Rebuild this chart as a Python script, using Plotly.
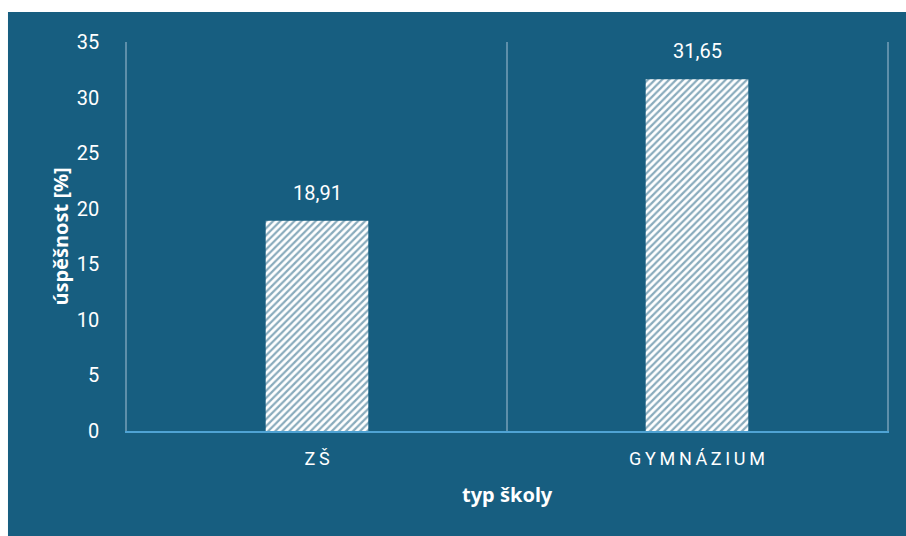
import plotly.graph_objects as go

categories = ["ZŠ", "GYMNÁZIUM"]
values = [18.91, 31.65]
value_labels = ["18,91", "31,65"]
y_ticks = [0, 5, 10, 15, 20, 25, 30, 35]

BG = "#175E80"
TXT = "#FFFFFF"
GRID = "#5E8FAA"

def spaced(s):
    return "\u2009".join(list(s))

fig = go.Figure()
fig.add_trace(go.Bar(
    x=categories, y=values, width=0.27,
    marker=dict(color="white", line=dict(width=0),
                pattern=dict(shape="/", fgcolor="#14587A", bgcolor="white", size=5, solidity=0.45)),
    hoverinfo="skip",
))

for c, v, t in zip(categories, values, value_labels):
    fig.add_annotation(x=c, y=v, text=t, showarrow=False, yanchor="bottom", yshift=14,
                       font=dict(family="Roboto", size=20, color=TXT))

fig.add_shape(type="rect", xref="paper", yref="paper", x0=-0.1566, x1=1.03, y0=-0.28, y1=1.0771,
              fillcolor=BG, line=dict(width=0), layer="below")

fig.add_annotation(xref="paper", yref="paper", x=-0.088, y=0.5, xanchor="center", yanchor="middle",
                   text="<b>úspěšnost [%]</b>", textangle=-90, showarrow=False,
                   font=dict(family="Noto Sans", size=20, color=TXT))
fig.add_annotation(xref="paper", yref="paper", x=0.5, y=-0.164, xanchor="center", yanchor="middle",
                   text="<b>typ školy</b>", showarrow=False,
                   font=dict(family="Noto Sans", size=20, color=TXT))

fig.update_layout(
    width=906, height=536,
    margin=dict(l=127, r=19, t=42, b=105),
    paper_bgcolor="white", plot_bgcolor="rgba(0,0,0,0)",
    showlegend=False,
    font=dict(family="Roboto", color=TXT),
)
fig.update_xaxes(
    type="category", tickson="boundaries", showgrid=True, gridcolor=GRID, gridwidth=1.5,
    showline=True, linecolor="#4FA3D4", linewidth=1.5, ticks="",
    tickvals=categories, ticktext=[spaced(c) for c in categories],
    tickfont=dict(family="Roboto", size=18, color=TXT), ticklabelstandoff=11,
    range=[-0.5, 1.5], zeroline=False,
)
fig.update_yaxes(
    range=[0, 35], tickvals=y_ticks, showgrid=False, zeroline=False,
    showline=True, linecolor=GRID, linewidth=1.5, mirror=True, ticks="",
    tickfont=dict(family="Roboto", size=20, color=TXT), ticklabelstandoff=22,
)

fig.write_html("out.html")
